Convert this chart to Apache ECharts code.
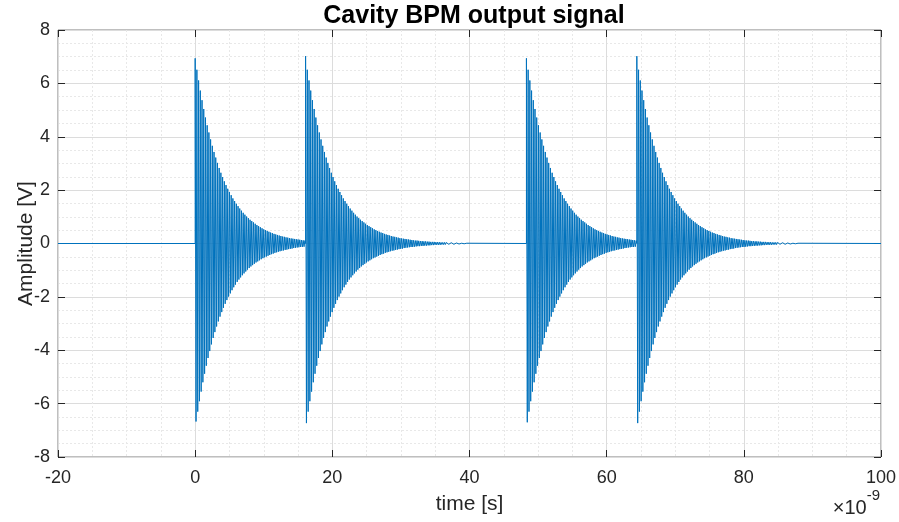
<!DOCTYPE html>
<html><head><meta charset="utf-8">
<script src="https://cdn.jsdelivr.net/npm/echarts@6/dist/echarts.min.js"></script>
<style>html,body{margin:0;padding:0;background:#fff}#c{width:899px;height:522px}</style>
</head><body><div id="c"></div>
<script>
// Burst start times (ns)
const burstStarts = [0, 16.1, 48.3, 64.4];
// Read first positive peak and first negative peak for each burst (V)
const burstPeaks = [6.94, 7.02, 6.94, 7.02];
const burstTroughs = [-6.67, -6.73, -6.70, -6.73];
// Ring-down envelope magnitude, every 0.125 ns from burst start (V);
// the signal alternates between the upper (+) and lower (-) envelope at these instants
const envStep = 0.125;
const envelope = [
  6.94,6.72,6.51,6.30,6.11,5.91,5.73,5.55,5.37,5.20,5.04,4.88,4.72,4.58,4.43,4.29,
  4.16,4.03,3.90,3.78,3.66,3.54,3.43,3.32,3.22,3.11,3.02,2.92,2.83,2.74,2.65,2.57,
  2.49,2.41,2.33,2.26,2.19,2.12,2.05,1.99,1.93,1.87,1.81,1.75,1.69,1.64,1.59,1.54,
  1.49,1.44,1.40,1.35,1.31,1.27,1.23,1.19,1.15,1.12,1.08,1.05,1.01,0.98,0.95,0.92,
  0.89,0.86,0.84,0.81,0.79,0.76,0.74,0.71,0.69,0.67,0.65,0.63,0.61,0.59,0.57,0.55,
  0.53,0.52,0.50,0.49,0.47,0.46,0.44,0.43,0.41,0.40,0.39,0.38,0.36,0.35,0.34,0.33,
  0.32,0.31,0.30,0.29,0.28,0.27,0.26,0.26,0.25,0.24,0.23,0.23,0.22,0.21,0.20,0.20,
  0.19,0.19,0.18,0.17,0.17,0.16,0.16,0.15,0.15,0.14,0.14,0.13,0.13,0.13,0.12,0.12,
  0.11,0.11,0.11,0.10,0.10,0.10,0.09,0.09,0.09,0.09,0.08,0.08,0.08,0.08,0.07,0.07,
  0.07,0.07,0.06,0.06,0.06,0.06,0.06,0.05,0.05,0.05,0.05,0.05,0.05,0.05,0.04,0.04,
  0.04,0.04,0.04,0.04,0.04,0.03,0.03,0.03,0.03,0.03,0.03,0.03,0.03,0.03,0.03,0.02,0.02,
  0.02,0.02,0.02,0.02,0.02,0.01,0.01,0.01,0.01,0.01,0.01,0.01,0.01];
const xMin = -20, xMax = 100;
const xTicks = [-20, 0, 20, 40, 60, 80, 100];
const yTicks = [-8, -6, -4, -2, 0, 2, 4, 6, 8];

// Build the signal: flat zero, then ring-down alternating between upper and lower envelope
const data = [[xMin, 0]];
burstStarts.forEach((s, b) => {
  const next = b + 1 < burstStarts.length ? burstStarts[b + 1] : xMax;
  data.push([s, 0]);
  let lastT = s;
  for (let k = 0; k < envelope.length; k++) {
    const t = +(s + k * envStep).toFixed(4);
    if (t >= next) break;
    let v = envelope[k];
    if (k === 0) v = burstPeaks[b];
    if (k === 1) v = -Math.abs(burstTroughs[b]);
    else if (k % 2 === 1) v = -v;
    data.push([t, v]);
    lastT = t;
  }
  const endT = Math.min(+(lastT + envStep).toFixed(4), next);
  data.push([endT, 0]);
});
data.push([xMax, 0]);

const chart = echarts.init(document.getElementById('c'), null, {renderer: 'canvas'});
const font = 'Liberation Sans, Arial, Helvetica, sans-serif';
const txt = '#262626';
const gridMajor = {show: true, lineStyle: {color: '#dcdcdc', width: 1}};
const gridMinor = {show: true, lineStyle: {color: '#e8e8e8', width: 1, type: [2, 2]}};
const noLine = {show: false, onZero: false};
chart.setOption({
  animation: false,
  backgroundColor: '#fff',
  title: {text: 'Cavity BPM output signal', left: 469, textAlign: 'center', top: -1,
    textStyle: {fontFamily: font, fontSize: 25, fontWeight: 'bold', color: '#000'}},
  grid: {left: 58, right: 18, top: 30, bottom: 65, show: true, borderColor: '#7f7f7f', borderWidth: 1,
    containLabel: false, outerBoundsMode: 'none'},
  xAxis: [{
    type: 'value', min: xMin, max: xMax, interval: 20,
    name: 'time [s]', nameLocation: 'middle', nameGap: 37,
    nameTextStyle: {fontFamily: font, fontSize: 21, color: txt},
    axisLine: noLine,
    axisTick: {show: true, inside: true, length: 7, lineStyle: {color: txt}},
    axisLabel: {fontFamily: font, fontSize: 18, color: txt, margin: 12,
      formatter: v => xTicks.includes(v) ? String(v) : ''},
    splitLine: gridMajor,
    minorTick: {show: false, splitNumber: 4},
    minorSplitLine: gridMinor
  }, {
    type: 'value', min: xMin, max: xMax, interval: 20, position: 'top',
    axisLine: noLine, axisLabel: {show: false}, splitLine: {show: false},
    axisTick: {show: true, inside: true, length: 7, lineStyle: {color: txt}}
  }],
  yAxis: [{
    type: 'value', min: -8, max: 8, interval: 2,
    name: 'Amplitude [V]', nameLocation: 'middle', nameGap: 21, nameRotate: 90,
    nameMoveOverlap: false,
    nameTextStyle: {fontFamily: font, fontSize: 21, color: txt},
    axisLine: noLine,
    axisTick: {show: true, inside: true, length: 7, lineStyle: {color: txt}},
    axisLabel: {fontFamily: font, fontSize: 18, color: txt, margin: 8,
      formatter: v => yTicks.includes(v) ? String(v) : ''},
    splitLine: gridMajor,
    minorTick: {show: false, splitNumber: 4},
    minorSplitLine: gridMinor
  }, {
    type: 'value', min: -8, max: 8, interval: 2, position: 'right',
    axisLine: noLine, axisLabel: {show: false}, splitLine: {show: false},
    axisTick: {show: true, inside: true, length: 7, lineStyle: {color: txt}}
  }],
  series: [{
    type: 'line', xAxisIndex: 0, yAxisIndex: 0, data: data,
    showSymbol: false, symbol: 'none',
    lineStyle: {color: '#0072bd', width: 1}, z: 5
  }],
  graphic: [{
    type: 'text', right: 19, top: 488,
    style: {
      text: '{a|×10}{b|-9}', fill: txt,
      rich: {
        a: {fontFamily: font, fontSize: 20, fill: txt, verticalAlign: 'bottom', padding: [10, 0, 0, 0]},
        b: {fontFamily: font, fontSize: 15, fill: txt, verticalAlign: 'top', padding: [0, 0, 12, 0]}
      }
    }
  }]
});
</script></body></html>
